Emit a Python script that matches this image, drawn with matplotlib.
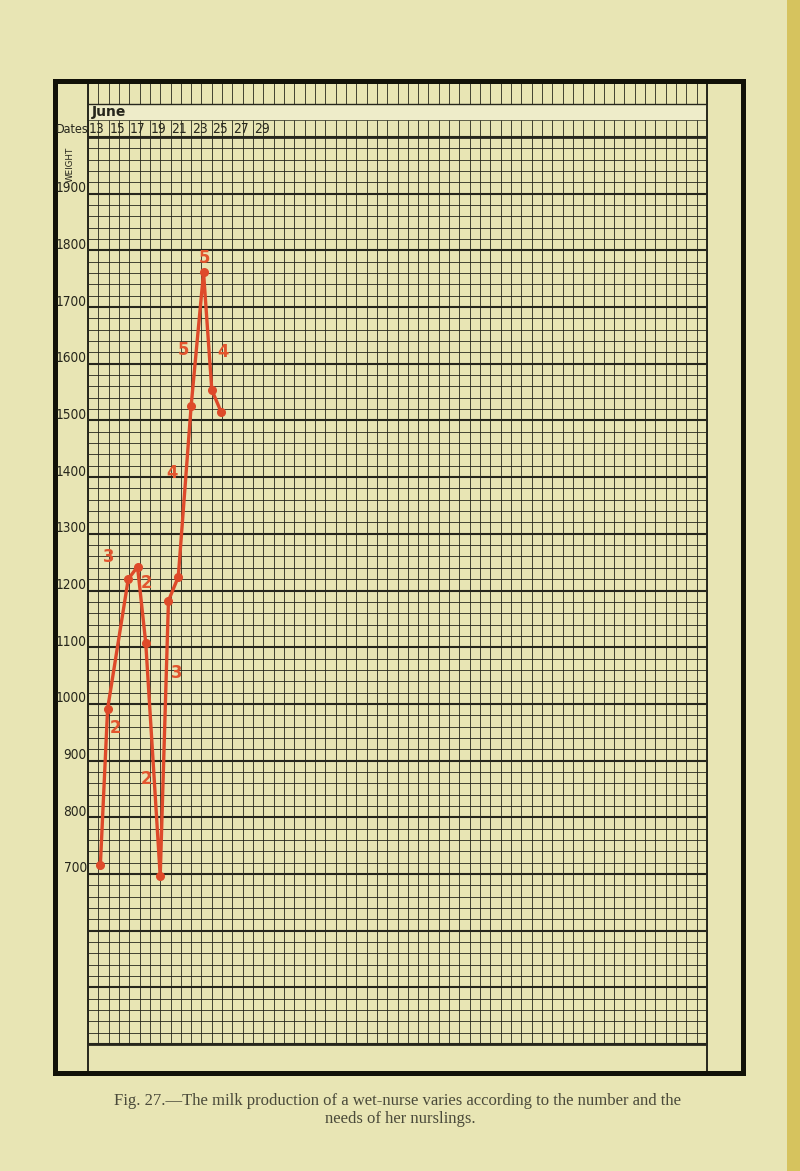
import matplotlib
matplotlib.use('Agg')
import matplotlib.pyplot as plt
from matplotlib.patches import Rectangle
from matplotlib import font_manager as fm
from matplotlib.font_manager import FontProperties
from matplotlib.textpath import TextPath

# ---------------- data ----------------
month = 'June'
first_day = 13
n_days = 60
w_min, w_max = 400, 2000

point_days = [14.2, 14.9, 16.9, 17.8, 18.6, 20.0, 20.8, 21.75, 23.0, 24.2, 25.0, 25.9]
point_weights = [716, 991, 1220, 1242, 1107, 696, 1182, 1224, 1526, 1761, 1554, 1515]

nursling_labels = ['3', '2', '2', '2', '3', '4', '5', '5', '4']
nursling_days = [15.04, 18.69, 15.62, 18.69, 21.60, 21.14, 22.21, 24.24, 26.06]
nursling_weights = [1259, 1213, 957, 867, 1054, 1407, 1624, 1786, 1621]

date_labels = ['13', '15', '17', '19', '21', '23', '25', '27', '29']
date_days = [13, 15, 17, 19, 21, 23, 25, 27, 29]
weight_ticks = [1900, 1800, 1700, 1600, 1500, 1400, 1300, 1200, 1100, 1000, 900, 800, 700]
weight_labels = ['1900', '1800', '1700', '1600', '1500', '1400', '1300', '1200',
                 '1100', '1000', '900', '800', '700']

caption1 = 'Fig. 27.\u2014The milk production of a wet-nurse varies according to the number and the'
caption2 = 'needs of her nurslings.'

# ---------------- style ----------------
bg = '#e8e5b4'
ink = '#26261c'
red = '#de4a2a'
red_txt = '#e2552e'
DPI = 100

# look for the narrowest suitable sans face
rank = {'extra-condensed': 0, 'condensed': 1, 'ultra-condensed': 2, 'semi-condensed': 3}
best_reg, best_bold = None, None
for f in fm.fontManager.ttflist:
    st = str(f.stretch)
    r = rank.get(st, 4 if ('Narrow' in f.name or 'Condensed' in f.name) else None)
    if r is None or 'Sans' not in f.name or f.style != 'normal':
        continue
    wt = f.weight if isinstance(f.weight, int) else (700 if 'bold' in str(f.weight) else 400)
    if wt == 400 and (best_reg is None or r < best_reg[0]):
        best_reg = (r, f.fname)
    if wt == 700 and (best_bold is None or r < best_bold[0]):
        best_bold = (r, f.fname)


def base_prop(bold=False):
    if bold and best_bold:
        return FontProperties(fname=best_bold[1])
    if best_reg:
        p = FontProperties(fname=best_reg[1])
        if bold:
            p.set_weight('bold')
        return p
    return FontProperties(family='DejaVu Sans', weight='bold' if bold else 'normal')


def fitted(text, target_w_px, max_h_px, bold=False):
    p = base_prop(bold)
    ext = TextPath((0, 0), text, size=10, prop=p).get_extents()
    w_px = ext.width * DPI / 72.0
    h_px = ext.height * DPI / 72.0
    size = min(10 * target_w_px / w_px, 10 * max_h_px / h_px)
    p.set_size(size)
    return dict(fontproperties=p)


serif = ['Liberation Serif', 'DejaVu Serif']

W, H = 800, 1171
fig = plt.figure(figsize=(8, 11.71), dpi=DPI)
fig.patch.set_facecolor(bg)

# pixel layout of the grid
gx0, gx1 = 88, 707
gy_top, gy_bot = 137, 1044
sx = (gx1 - gx0) / n_days
sy = (gy_bot - gy_top) / (w_max - w_min)

ax = fig.add_axes([0, 0, 1, 1])
ax.set_xlim(first_day - gx0 / sx, first_day + (W - gx0) / sx)
ax.set_ylim(w_max - (H - gy_top) / sy, w_max + gy_top / sy)
ax.axis('off')
ax.set_facecolor(bg)


def X(px):
    return first_day + (px - gx0) / sx


def Y(py):
    return w_max - (py - gy_top) / sy


# page edge strip
ax.add_patch(Rectangle((X(787), Y(H)), X(W) - X(787), Y(0) - Y(H),
                       facecolor='#d6c35e', edgecolor='none', zorder=0))
# light band for month row
ax.add_patch(Rectangle((X(gx0), Y(120)), X(gx1) - X(gx0), Y(104) - Y(120),
                       facecolor='#eeecc9', edgecolor='none', zorder=0))

day_lines = [first_day + k for k in range(n_days + 1)]
ax.vlines(day_lines, w_min, w_max, colors=ink, linewidth=0.6, zorder=1)
ax.vlines(day_lines, Y(104), Y(81), colors=ink, linewidth=0.6, zorder=1)
ax.vlines(day_lines, Y(137), Y(120), colors=ink, linewidth=0.6, zorder=1)
minor = [w for w in range(w_min, w_max + 1, 20) if w % 100 != 0]
ax.hlines(minor, first_day, first_day + n_days, colors=ink, linewidth=0.6, zorder=1)
major = list(range(w_min, w_max + 1, 100))
ax.hlines(major, first_day, first_day + n_days, colors=ink, linewidth=1.5, zorder=1)
ax.hlines([Y(104)], first_day, first_day + n_days, colors=ink, linewidth=1.0, zorder=1)
ax.hlines([Y(120)], first_day, first_day + n_days, colors=ink, linewidth=0.5, zorder=1)
ax.hlines([w_max], X(gx0), X(gx1), colors=ink, linewidth=2.0, zorder=1)
ax.hlines([w_min], X(gx0), X(gx1), colors=ink, linewidth=2.0, zorder=1)
ax.vlines([X(gx0), X(gx1)], Y(1073), Y(81), colors=ink, linewidth=1.4, zorder=1)

# outer frame
ax.plot([X(55), X(55), X(743), X(743), X(55)],
        [Y(81), Y(1073), Y(1073), Y(81), Y(81)],
        color='#111108', linewidth=3.6, solid_joinstyle='miter', zorder=2)

# header texts
ax.text(X(92), Y(112), month, fontsize=10, fontweight='bold', color=ink,
        family=['DejaVu Sans'], ha='left', va='center')
ax.text(X(89), Y(129), 'Dates', color=ink, ha='right', va='center',
        **fitted('Dates', 31, 13))
date_font = fitted('29', 14, 12)
for d, lab in zip(date_days, date_labels):
    ax.text(d + 0.06, Y(129), lab, color=ink, ha='left', va='center', **date_font)
ax.text(X(70), Y(164), 'WEIGHT', fontsize=6.3, color=ink, rotation=90,
        ha='center', va='center', family=['DejaVu Sans'])
wfont = fitted('1900', 29, 12.5)
for w, lab in zip(weight_ticks, weight_labels):
    ax.text(X(87), w + 1.5 / sy, lab, color=ink, ha='right', va='baseline', **wfont)

# red curve
ax.plot(point_days, point_weights, color=red, linewidth=2.4, marker='o',
        markersize=5.5, solid_capstyle='round', zorder=4)
rfont = fitted('5', 9, 14, bold=True)
for d, w, lab in zip(nursling_days, nursling_weights, nursling_labels):
    ax.text(d, w, lab, color=red_txt, ha='center', va='center', zorder=5, **rfont)

# caption
ax.text(X(398), Y(1101), caption1, fontsize=12, color='#4a4a3a', ha='center',
        va='center', family=serif)
ax.text(X(400), Y(1119), caption2, fontsize=12, color='#4a4a3a', ha='center',
        va='center', family=serif)

fig.savefig('out.png', dpi=DPI, facecolor=bg)
